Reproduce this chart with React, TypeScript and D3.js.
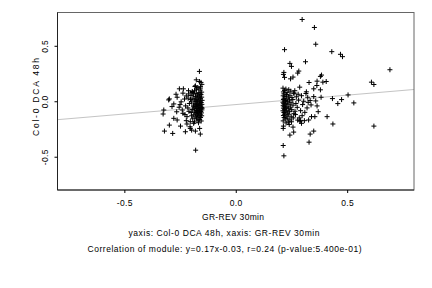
// @ts-nocheck
import { FC, useEffect, useRef } from "react";
import * as d3 from "d3";

const xTicks = [-0.5, 0.0, 0.5];
const yTicks = [-0.5, 0.0, 0.5];
const slope = 0.17;
const intercept = -0.03;

const xLabel = "GR-REV 30min";
const yLabel = "Col-0 DCA 48h";
const subtitle1 = "yaxis: Col-0 DCA 48h, xaxis: GR-REV 30min";
const subtitle2 =
  "Correlation of module: y=0.17x-0.03, r=0.24 (p-value:5.400e-01)";

// left cluster, dense column
const leftDenseX = [
  -0.152, -0.158, -0.17, -0.176, -0.16, -0.185, -0.195, -0.153, -0.166, -0.178,
  -0.189, -0.156, -0.172, -0.201, -0.162, -0.181, -0.153, -0.168, -0.192, -0.158,
  -0.175, -0.186, -0.151, -0.164, -0.179, -0.198, -0.155, -0.171, -0.183, -0.16,
  -0.152, -0.176, -0.19, -0.166, -0.157, -0.18, -0.17, -0.153, -0.161, -0.186,
  -0.175, -0.156, -0.168, -0.195, -0.152, -0.178, -0.163, -0.184, -0.157, -0.171,
  -0.2, -0.154, -0.166, -0.179, -0.159, -0.188, -0.172, -0.153, -0.165, -0.182,
  -0.158, -0.176, -0.193, -0.162, -0.17, -0.155, -0.185, -0.167, -0.16, -0.173,
  -0.189, -0.164, -0.151, -0.177, -0.203, -0.198, -0.21, -0.214, -0.208, -0.156,
  -0.183, -0.173, -0.161,
];
const leftDenseY = [
  0.152, 0.131, 0.122, 0.108, 0.101, 0.095, 0.088, 0.082, 0.077, 0.071,
  0.066, 0.06, 0.055, 0.051, 0.046, 0.042, 0.037, 0.031, 0.027, 0.022,
  0.018, 0.012, 0.008, 0.003, -0.002, -0.006, -0.011, -0.015, -0.019, -0.024,
  -0.028, -0.031, -0.035, -0.039, -0.043, -0.047, -0.052, -0.055, -0.058, -0.061,
  -0.064, -0.068, -0.071, -0.074, -0.078, -0.081, -0.085, -0.089, -0.093, -0.097,
  -0.101, -0.105, -0.109, -0.113, -0.118, -0.122, -0.127, -0.131, -0.136, -0.141,
  -0.146, -0.152, -0.158, -0.164, -0.171, -0.178, -0.186, -0.194, 0.066, 0.009,
  -0.046, -0.026, -0.063, -0.101, 0.015, -0.131, -0.091, 0.028, -0.02, 0.17,
  0.133, -0.083, -0.004,
];

// left cluster, scattered points
const leftSpreadX = [
  -0.163, -0.177, -0.163, -0.181, -0.159, -0.253, -0.235, -0.268, -0.298, -0.301,
  -0.263, -0.237, -0.222, -0.211, -0.196, -0.278, -0.286, -0.323, -0.326, -0.298,
  -0.32, -0.283, -0.248, -0.226, -0.204, -0.198, -0.181, -0.159, -0.162, -0.18,
  -0.278, -0.263, -0.237, -0.219, -0.24, -0.254, -0.225, -0.204, -0.189, -0.219,
  -0.245, -0.23, -0.215, -0.228, -0.25, -0.212, -0.222, -0.205, -0.265,
];
const leftSpreadY = [
  0.269, 0.193, 0.178, 0.139, 0.118, 0.112, 0.112, 0.063, 0.021, 0.012,
  0.036, 0.073, 0.048, 0.066, 0.079, -0.024, -0.048, -0.079, -0.115, -0.215,
  -0.269, -0.29, -0.224, -0.275, -0.245, -0.26, -0.269, -0.296, -0.245, -0.441,
  -0.154, -0.169, -0.109, -0.139, -0.079, -0.054, -0.042, -0.184, -0.199, -0.205,
  -0.005, 0.02, -0.06, -0.12, -0.03, 0.095, -0.175, -0.23, -0.095,
];

// right cluster, dense column
const rightDenseX = [
  0.212, 0.225, 0.238, 0.219, 0.247, 0.214, 0.231, 0.262, 0.216, 0.228,
  0.243, 0.213, 0.221, 0.236, 0.252, 0.217, 0.229, 0.214, 0.241, 0.223,
  0.218, 0.233, 0.212, 0.248, 0.226, 0.215, 0.239, 0.221, 0.257, 0.213,
  0.23, 0.218, 0.245, 0.224, 0.214, 0.236, 0.219, 0.251, 0.227, 0.212,
  0.242, 0.222, 0.216, 0.233, 0.261, 0.219, 0.238, 0.214, 0.226, 0.249,
  0.217, 0.231, 0.222, 0.243, 0.213, 0.236, 0.226, 0.27, 0.282, 0.276,
  0.291, 0.268, 0.285, 0.3, 0.295, 0.272, 0.31, 0.305, 0.288, 0.265,
  0.278, 0.258, 0.32, 0.315, 0.298, 0.266, 0.325, 0.256, 0.25, 0.24,
];
const rightDenseY = [
  0.118, 0.11, 0.104, 0.096, 0.091, 0.084, 0.078, 0.073, 0.067, 0.06,
  0.054, 0.049, 0.043, 0.038, 0.033, 0.027, 0.021, 0.016, 0.011, 0.006,
  0.001, -0.004, -0.009, -0.013, -0.018, -0.022, -0.027, -0.031, -0.035, -0.04,
  -0.044, -0.049, -0.053, -0.058, -0.062, -0.067, -0.072, -0.076, -0.081, -0.086,
  -0.091, -0.096, -0.101, -0.107, -0.112, -0.117, -0.122, -0.128, -0.134, -0.14,
  -0.146, -0.153, -0.16, -0.168, -0.177, -0.186, -0.195, -0.02, 0.01, -0.055,
  -0.085, -0.12, -0.15, -0.03, 0.05, 0.04, -0.1, 0.0, -0.18, 0.095,
  -0.17, -0.15, -0.06, 0.07, -0.13, -0.09, -0.01, 0.015, -0.185, -0.21,
];

// right cluster, scattered points
const rightSpreadX = [
  0.298, 0.353, 0.359, 0.219, 0.431, 0.47, 0.479, 0.313, 0.692, 0.243,
  0.25, 0.283, 0.278, 0.216, 0.214, 0.219, 0.246, 0.257, 0.385, 0.38,
  0.406, 0.391, 0.365, 0.329, 0.609, 0.62, 0.364, 0.38, 0.35, 0.287,
  0.504, 0.53, 0.434, 0.475, 0.458, 0.41, 0.436, 0.62, 0.35, 0.334,
  0.329, 0.243, 0.26, 0.257, 0.213, 0.216, 0.213, 0.214, 0.295, 0.29,
  0.308, 0.327, 0.34, 0.355, 0.37, 0.365, 0.338, 0.334, 0.323, 0.35,
  0.359, 0.383, 0.317, 0.28, 0.26,
];
const rightSpreadY = [
  0.737, 0.665, 0.514, 0.465, 0.447, 0.423, 0.402, 0.356, 0.284, 0.341,
  0.314, 0.272, 0.254, 0.26, 0.242, 0.215, 0.202, 0.218, 0.236, 0.224,
  0.178, 0.172, 0.181, 0.169, 0.172, 0.151, 0.142, 0.103, 0.112, 0.127,
  0.057, -0.015, 0.024, 0.015, -0.021, -0.139, -0.205, -0.224, -0.269, -0.296,
  -0.369, -0.305, -0.278, -0.233, -0.399, -0.492, -0.245, -0.224, -0.199, -0.172,
  -0.175, -0.169, -0.139, -0.139, -0.094, -0.042, -0.033, 0.006, 0.036, 0.042,
  0.003, 0.036, 0.085, 0.063, 0.073,
];

const App: FC = () => {
  const ref = useRef();
  const width = 432;
  const height = 288;

  useEffect(() => {
    const svg = d3.select(ref.current);
    svg.selectAll("*").remove();

    const margin = { top: 12.5, right: 18, bottom: 98, left: 57.5 };
    const w = width - margin.left - margin.right;
    const h = height - margin.top - margin.bottom;
    const font = "'Liberation Sans', Arial, Helvetica, sans-serif";
    const fmt = (d) => d3.format(".1f")(d).replace("−", "-");

    const x = d3.scaleLinear().domain([-0.8, 0.8]).range([0, w]);
    const y = d3.scaleLinear().domain([-0.8, 0.8]).range([h, 0]);

    const g = svg
      .append("g")
      .attr("transform", `translate(${margin.left},${margin.top})`);

    // regression line
    const line = d3
      .line()
      .x((d) => x(d))
      .y((d) => y(slope * d + intercept));
    g.append("path")
      .datum(x.domain())
      .attr("d", line)
      .attr("fill", "none")
      .attr("stroke", "#c4c4c4")
      .attr("stroke-width", 1);

    // points
    const pts = [
      ...leftDenseX.map((v, i) => [v, leftDenseY[i]]),
      ...leftSpreadX.map((v, i) => [v, leftSpreadY[i]]),
      ...rightDenseX.map((v, i) => [v, rightDenseY[i]]),
      ...rightSpreadX.map((v, i) => [v, rightSpreadY[i]]),
    ];
    const s = 2.5;
    g.selectAll(".pt")
      .data(pts)
      .join("path")
      .attr("class", "pt")
      .attr("d", (d) => {
        const cx = x(d[0]);
        const cy = y(d[1]);
        return `M${cx - s},${cy}H${cx + s}M${cx},${cy - s}V${cy + s}`;
      })
      .attr("stroke", "#000")
      .attr("stroke-width", 1);

    // box
    g.append("rect")
      .attr("width", w)
      .attr("height", h)
      .attr("fill", "none")
      .attr("stroke", "#666")
      .attr("stroke-width", 1);
    g.append("line")
      .attr("x1", 0)
      .attr("x2", w)
      .attr("y1", h)
      .attr("y2", h)
      .attr("stroke", "#222");
    g.append("line")
      .attr("x1", 0)
      .attr("x2", 0)
      .attr("y1", 0)
      .attr("y2", h)
      .attr("stroke", "#222");

    // x axis
    const xa = g
      .append("g")
      .attr("transform", `translate(0,${h})`)
      .call(
        d3
          .axisBottom(x)
          .tickValues(xTicks)
          .tickFormat(fmt)
          .tickSize(3)
          .tickPadding(7)
      );
    xa.select(".domain").remove();
    xa.selectAll("text")
      .style("font-family", font)
      .style("font-size", "8.5px")
      .style("letter-spacing", "0.4px");

    // y axis
    const ya = g.append("g").call(
      d3.axisLeft(y).tickValues(yTicks).tickFormat(fmt).tickSize(3)
    );
    ya.select(".domain").remove();
    ya.selectAll("text")
      .attr("x", 0)
      .attr("dy", 0)
      .attr("text-anchor", "middle")
      .attr("transform", "translate(-9.5,0) rotate(-90)")
      .style("font-family", font)
      .style("font-size", "8.5px")
      .style("letter-spacing", "0.4px");

    // labels
    const addText = (x0, y0, txt, len, rot) => {
      const t = svg
        .append("text")
        .attr("text-anchor", "middle")
        .attr("textLength", len)
        .attr("lengthAdjust", "spacing")
        .style("font-family", font)
        .style("font-size", "8.5px")
        .text(txt);
      if (rot) t.attr("transform", `translate(${x0},${y0}) rotate(-90)`);
      else t.attr("x", x0).attr("y", y0);
      return t;
    };
    addText(233, 219.5, xLabel, 62, false);
    addText(38.5, 97, yLabel, 78, true);
    addText(224, 235.5, subtitle1, 191, false);
    addText(224.5, 251.5, subtitle2, 274, false);
  }, []);

  return (
    <svg
      ref={ref}
      width={width}
      height={height}
      style={{ position: "absolute", left: 0, top: 0, background: "#fff" }}
    />
  );
};

export default App;
